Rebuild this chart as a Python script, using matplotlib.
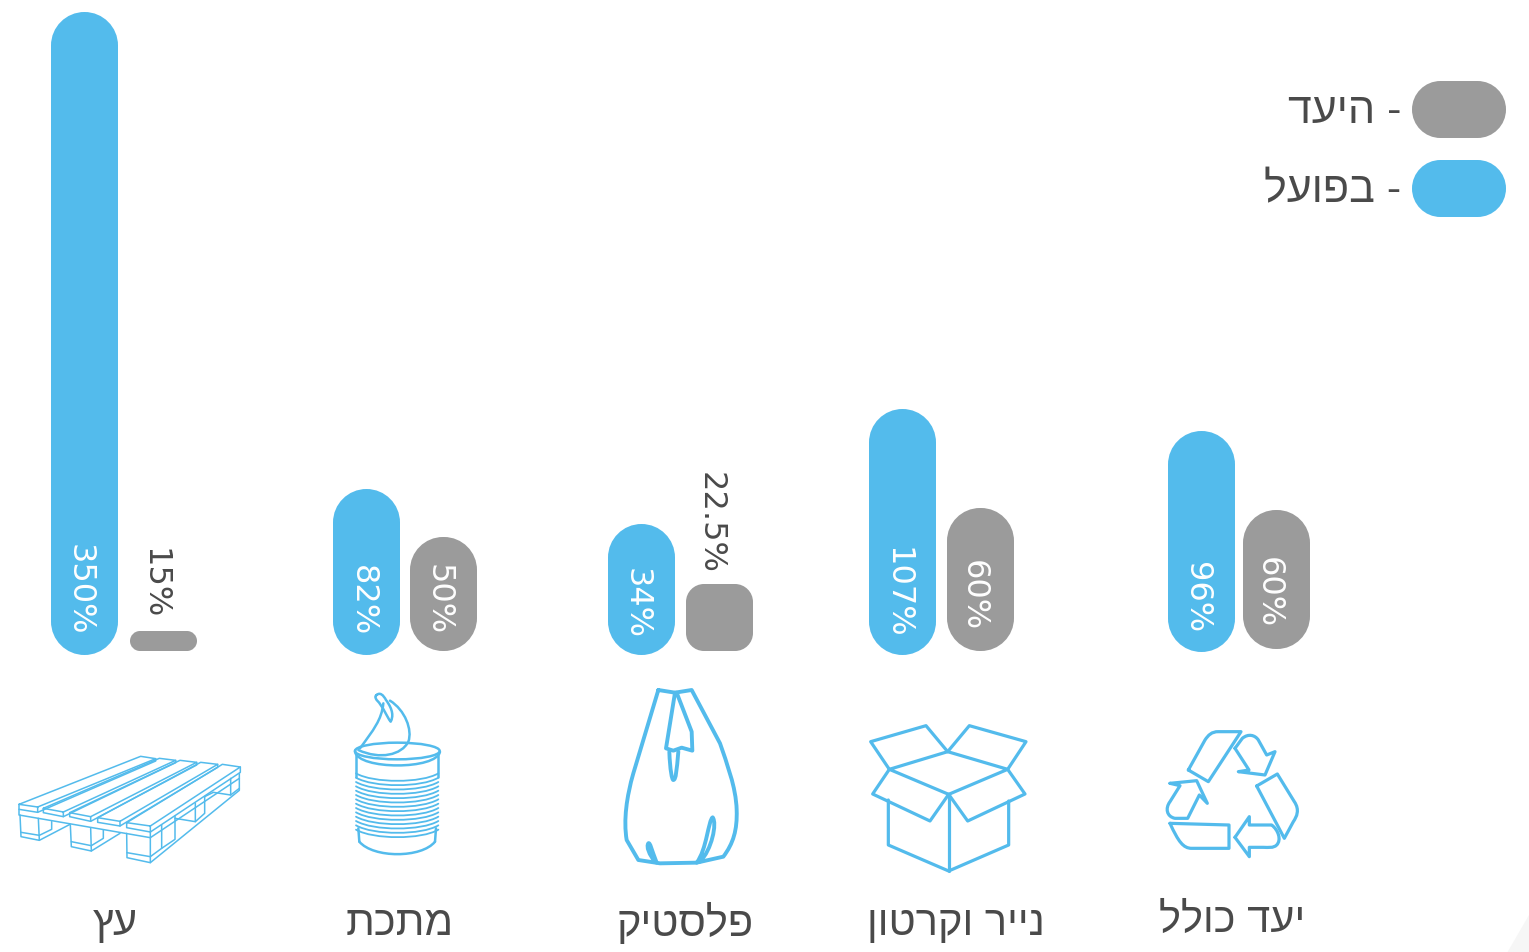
import matplotlib
matplotlib.use("Agg")
import matplotlib.pyplot as plt
from matplotlib.path import Path
from matplotlib.patches import PathPatch, Polygon

# ---------- data ----------
categories = ["עץ", "מתכת", "פלסטיק", "נייר וקרטון", "יעד כולל"]
actual_labels = ["350%", "82%", "34%", "107%", "96%"]
target_labels = ["15%", "50%", "22.5%", "60%", "60%"]
# drawn bar lengths (the infographic is not to linear scale)
actual_lengths = [643, 166, 131, 246, 221]
target_lengths = [20, 114, 67, 143, 139]
legend_labels = ["- היעד", "- בפועל"]

# ---------- layout / style ----------
W, H = 1529, 953
BLUE, GRAY, INK = "#53BBEC", "#9B9B9B", "#4A4A4A"
actual_x = [51, 333, 608, 869, 1168]
target_x = [130, 410, 686, 947, 1243]
actual_base = [655, 655, 655, 655, 652]
target_base = [651, 651, 651, 651, 649]
target_radius = [10, 33, 18, 33, 33]
BAR_W = 67
actual_text_y = [589, 600, 603, 592, 597]
actual_text_x = [79, 362, 636, 897, 1196]
target_text_y = [583, 599, 522, 595, 592]
target_text_x = [154, 438, 710, 973, 1268]
target_text_color = [INK, "white", INK, "white", "white"]
label_x = [115, 400, 685, 956, 1232]
label_y = [923, 923, 923, 923, 920]

plt.rcParams["font.family"] = ["Liberation Sans", "DejaVu Sans"]
fig = plt.figure(figsize=(W / 100, H / 100), dpi=100, facecolor="white")
ax = fig.add_axes([0, 0, 1, 1])
ax.set_xlim(0, W)
ax.set_ylim(H - 1, -1)
ax.axis("off")


def visual(s):
    return s[::-1]


def pill(x, top, w, h, r, color):
    k = 0.5523 * r
    b, e = top + h, x + w
    verts = [(x, top + r),
             (x, top + r - k), (x + r - k, top), (x + r, top),
             (e - r, top),
             (e - r + k, top), (e, top + r - k), (e, top + r),
             (e, b - r),
             (e, b - r + k), (e - r + k, b), (e - r, b),
             (x + r, b),
             (x + r - k, b), (x, b - r + k), (x, b - r),
             (x, top + r)]
    codes = [Path.MOVETO, 4, 4, 4, Path.LINETO, 4, 4, 4, Path.LINETO, 4, 4, 4,
             Path.LINETO, 4, 4, 4, Path.LINETO]
    ax.add_patch(PathPatch(Path(verts, codes), fc=color, ec="none"))


for i in range(len(categories)):
    pill(actual_x[i], actual_base[i] - actual_lengths[i], BAR_W, actual_lengths[i], 33.5, BLUE)
    pill(target_x[i], target_base[i] - target_lengths[i], BAR_W, target_lengths[i], target_radius[i], GRAY)
    ax.text(actual_text_x[i], actual_text_y[i], actual_labels[i], rotation=-90, color="white",
            fontsize=23, family="DejaVu Sans", ha="center", va="center")
    ax.text(target_text_x[i], target_text_y[i], target_labels[i], rotation=-90, color=target_text_color[i],
            fontsize=23, family="DejaVu Sans", ha="center", va="center")
    ax.text(label_x[i], label_y[i], visual(categories[i]), color=INK, fontsize=30,
            ha="center", va="center")

# legend
pill(1412, 81, 94, 57, 28.5, GRAY)
pill(1412, 160, 94, 57, 28.5, BLUE)
ax.text(1401, 111, visual(legend_labels[0]), color=INK, fontsize=31, ha="right", va="center")
ax.text(1401, 190, visual(legend_labels[1]), color=INK, fontsize=31, ha="right", va="center")


# ---------- icons (traced in zoomed coordinates, 3x) ----------
def stroke(ox, oy, segs, lw):
    x0, y0 = segs[0]
    verts = [(ox + x0 / 3, oy + y0 / 3)]
    codes = [Path.MOVETO]
    for s in segs[1:]:
        if len(s) == 2:
            verts.append((ox + s[0] / 3, oy + s[1] / 3))
            codes.append(Path.LINETO)
        else:
            for j in range(0, 6, 2):
                verts.append((ox + s[j] / 3, oy + s[j + 1] / 3))
                codes.append(Path.CURVE4)
    ax.add_patch(PathPatch(Path(verts, codes), fc="none", ec=BLUE, lw=lw, joinstyle="round",
                           capstyle="round"))


pallet = [
    [(57, 373), (422, 229), (467, 236), (113, 381), (57, 373), (57, 388), (113, 397), (113, 381)],
    [(113, 397), (467, 243), (467, 236)],
    [(130, 385), (478, 235), (527, 241), (190, 396), (130, 385), (130, 398), (190, 410), (190, 396)],
    [(190, 410), (527, 248), (527, 241)],
    [(209, 398), (540, 241), (590, 247), (272, 410), (209, 398), (209, 410), (272, 424), (272, 410)],
    [(272, 424), (590, 255), (590, 247)],
    [(293, 413), (602, 247), (653, 253), (360, 424), (293, 413), (293, 427), (360, 438), (360, 424)],
    [(360, 438), (653, 262), (653, 253)],
    [(380, 428), (667, 253), (721, 261), (451, 438), (380, 428), (380, 443), (451, 456), (451, 438)],
    [(451, 456), (721, 277), (721, 261)],
    [(57, 388), (57, 405), (451, 473), (451, 456)],
    [(451, 473), (718, 295)],
    [(60, 405), (63, 470), (118, 481), (115, 415)],
    [(63, 457), (118, 466)], [(118, 481), (210, 433)], [(118, 466), (155, 448), (155, 425)],
    [(211, 435), (214, 500), (274, 513), (272, 445)],
    [(214, 485), (274, 497)], [(274, 513), (360, 460)], [(274, 497), (310, 475), (310, 450)],
    [(380, 460), (381, 533), (451, 548), (451, 473)],
    [(381, 518), (451, 530)], [(451, 548), (718, 331), (718, 280)],
    [(451, 530), (485, 505), (485, 435)], [(485, 505), (525, 478), (525, 408)],
    [(525, 415), (586, 425), (586, 370)], [(586, 425), (614, 400), (614, 350)],
    [(614, 350), (640, 337), (692, 345), (692, 295)], [(692, 345), (718, 325)],
]
for s in pallet:
    stroke(0, 680, s, 1.1)

can = [
    [(75, 213), (75, 199, 132, 188, 202, 188), (272, 188, 329, 199, 329, 213),
     (329, 227, 272, 238, 202, 238), (132, 238, 75, 227, 75, 213)],
    [(75, 215), (85, 270, 320, 270, 330, 215)],
    [(78, 225), (78, 290)], [(325, 225), (325, 290)],
    [(85, 445), (88, 485)], [(318, 445), (315, 485)],
    [(88, 485), (130, 535, 275, 535, 315, 485)],
    [(90, 205), (130, 150, 155, 120, 160, 70)],
    [(180, 62), (225, 90, 248, 150, 235, 185), (215, 225, 150, 240, 85, 210)],
    [(140, 45), (150, 36, 160, 45, 168, 60), (190, 90, 190, 110, 182, 125), (170, 110, 160, 80, 140, 60),
     (135, 52, 135, 48, 140, 45)],
]
for s in can:
    stroke(330, 680, s, 1.8)
for y in [280, 293, 306, 319, 332, 345, 358, 371, 384, 397, 410, 423, 436, 449]:
    stroke(330, 680, [(78, y), (130, y + 30, 275, y + 30, 325, y)], 1.3)

bag = [
    [(145, 30), (195, 38), (245, 30), (330, 190),
     (350, 250, 378, 320, 380, 390), (382, 450, 370, 490, 340, 530),
     (260, 548), (150, 550), (85, 540), (50, 480), (40, 420, 50, 350, 70, 280), (145, 30)],
    [(195, 38), (168, 205), (190, 212), (215, 203), (247, 212), (245, 155), (200, 38)],
    [(178, 215), (180, 270, 186, 300, 190, 300), (198, 300, 200, 270, 205, 215)],
    [(140, 548), (125, 510, 120, 485, 115, 490), (108, 500, 118, 525, 135, 545)],
    [(260, 548), (290, 510, 295, 420, 308, 412), (322, 430, 305, 510, 270, 545)],
]
for s in bag:
    stroke(610, 680, s, 2.8)

box = [
    [(88, 163), (263, 110), (443, 163), (266, 238), (88, 163)],
    [(88, 163), (32, 80), (198, 32), (263, 110)],
    [(263, 110), (328, 32), (498, 80), (443, 163)],
    [(88, 163), (38, 237), (210, 318), (266, 238)],
    [(443, 163), (495, 237), (323, 318), (266, 238)],
    [(85, 255), (85, 390), (266, 468), (446, 390), (446, 258)],
    [(266, 238), (266, 468)],
]
for s in box:
    stroke(860, 715, s, 2.3)

recycle = [
    [(100, 150), (150, 60), (160, 45, 170, 35, 190, 35), (258, 35), (160, 185), (100, 150)],
    [(240, 85), (262, 55), (280, 40, 300, 45, 310, 60), (335, 105), (360, 95), (330, 165), (250, 155),
     (282, 150), (240, 85)],
    [(305, 198), (367, 162), (418, 245), (435, 270, 425, 290, 415, 305), (388, 355), (305, 198)],
    [(240, 352), (283, 290), (283, 315), (350, 315), (370, 330, 380, 360, 365, 375),
     (355, 385, 340, 382, 325, 382), (283, 382), (283, 410), (240, 352)],
    [(45, 310), (222, 315), (222, 385), (110, 385), (85, 385, 70, 365, 45, 310)],
    [(45, 190), (125, 182), (157, 250), (133, 225), (98, 295), (60, 295), (35, 290, 30, 265, 45, 245),
     (75, 197), (45, 190)],
]
for s in recycle:
    stroke(1155, 720, s, 2.3)

# faint corner shape of the source page
ax.add_patch(Polygon([(1529, 915), (1529, 953), (1507, 953)], fc="#F6F6F6", ec="none"))

fig.savefig("out.png", dpi=100, facecolor="white")
